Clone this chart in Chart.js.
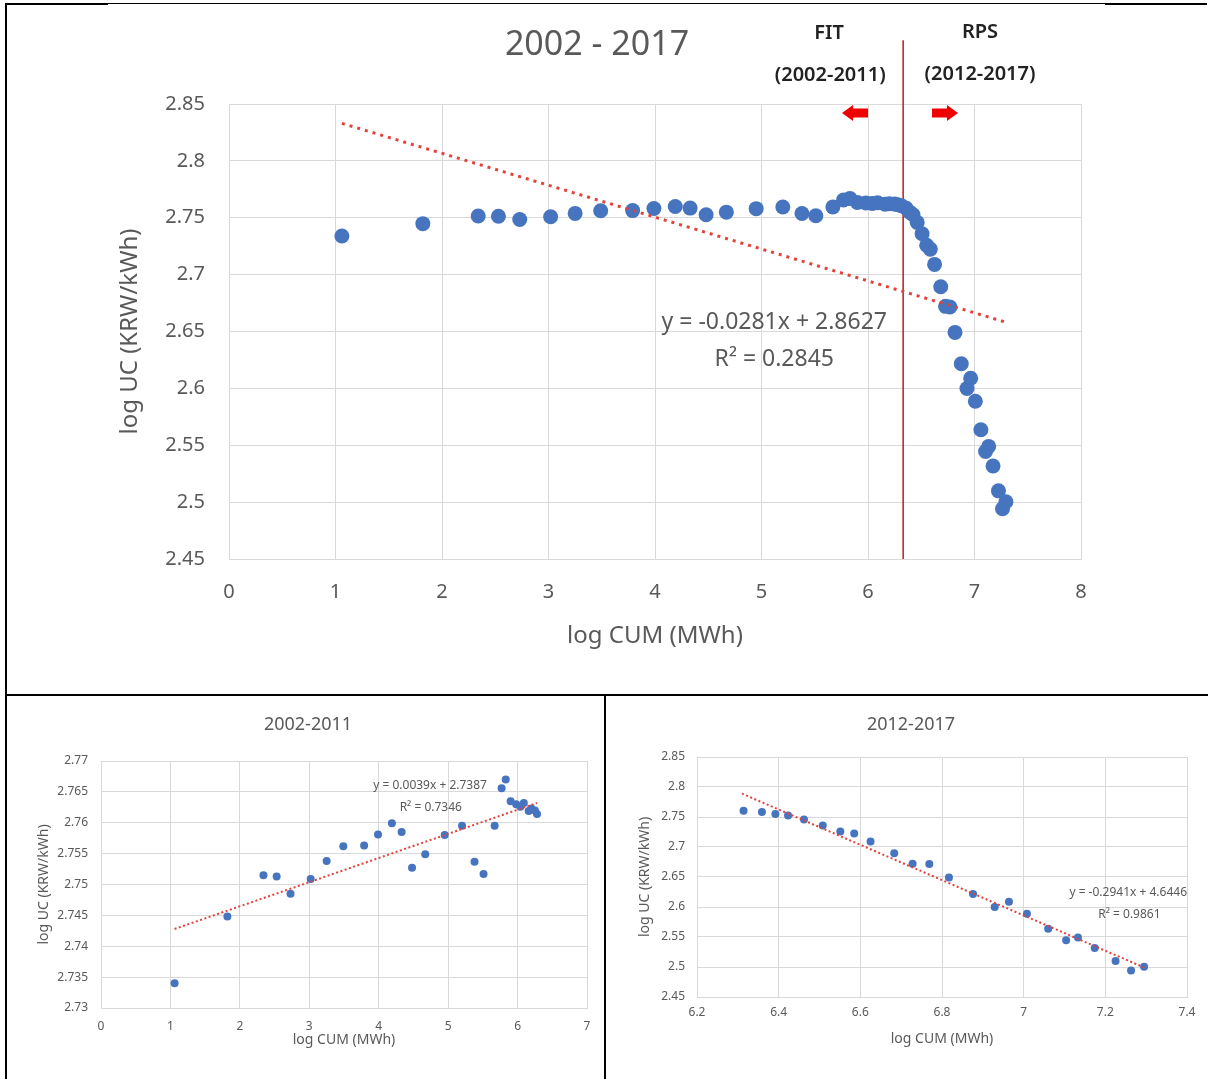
<!DOCTYPE html>
<html>
<head>
<meta charset="utf-8">
<script src="https://cdn.jsdelivr.net/npm/chart.js@4/dist/chart.umd.min.js"></script>
<style>
  body { margin: 0; background: #fff; width: 1208px; height: 1079px; position: relative; overflow: hidden; font-family: "Noto Sans", sans-serif; }
  .box { position: absolute; }
  .rule { position: absolute; background: #000; }
</style>
</head>
<body>
<!-- table borders -->
<div class="rule" style="left:5px;top:3px;width:103px;height:2px"></div>
<div class="rule" style="left:108px;top:3px;width:997px;height:1px"></div>
<div class="rule" style="left:1105px;top:3px;width:102px;height:2px"></div>
<div class="rule" style="left:5px;top:3px;width:2px;height:1076px"></div>
<div class="rule" style="left:5px;top:694px;width:1203px;height:2px"></div>
<div class="rule" style="left:604px;top:694px;width:2px;height:385px"></div>

<div class="box" style="left:113px;top:5px;width:1000px;height:680px"><canvas id="allChart"></canvas></div>
<div class="box" style="left:29px;top:697px;width:575px;height:380px"><canvas id="fitChart"></canvas></div>
<div class="box" style="left:635px;top:697px;width:571px;height:380px"><canvas id="rpsChart"></canvas></div>

<script>
// --------------------------------------------------------------------------
// DATA (log CUM in MWh, log UC in KRW/kWh)
// --------------------------------------------------------------------------
// 2002-2011 (FIT)
const fitX = [1.06, 1.82, 2.34, 2.53, 2.73, 3.02, 3.25, 3.49, 3.79, 3.99, 4.19, 4.33, 4.48, 4.67, 4.95,
              5.20, 5.38, 5.51, 5.67, 5.77, 5.83, 5.90, 5.98, 6.04, 6.09, 6.16, 6.20, 6.25, 6.28];
const fitY = [2.7340, 2.7448, 2.7515, 2.7513, 2.7485, 2.7509, 2.7538, 2.7562, 2.7563, 2.7581, 2.7599, 2.7585, 2.7527, 2.7549, 2.7580,
              2.7595, 2.7537, 2.7517, 2.7595, 2.7656, 2.7670, 2.7635, 2.7630, 2.7626, 2.7632, 2.7619, 2.7623, 2.7620, 2.7614];
// 2012-2017 (RPS)
const rpsX = [6.314, 6.359, 6.392, 6.423, 6.462, 6.508, 6.551, 6.585, 6.625, 6.683, 6.728, 6.769,
              6.817, 6.876, 6.929, 6.964, 7.008, 7.060, 7.104, 7.133, 7.174, 7.225, 7.263, 7.295];
const rpsY = [2.7605, 2.7583, 2.7549, 2.7527, 2.7459, 2.7359, 2.7258, 2.7224, 2.7090, 2.6894, 2.6721, 2.6715,
              2.6492, 2.6217, 2.5999, 2.6089, 2.5887, 2.5636, 2.5445, 2.5490, 2.5317, 2.5099, 2.4942, 2.5003];

// trendline end points
const allTrendX = [1.06, 7.30];
const allTrendY = [2.833, 2.658];
const fitTrendX = [1.06, 6.28];
const fitTrendY = [2.7428, 2.7632];
const rpsTrendX = [6.31, 7.30];
const rpsTrendY = [2.789, 2.4977];

// FIT / RPS boundary
const dividerX = [6.33, 6.33];
const dividerY = [2.45, 2.906];

const BLUE = '#4674bf';
const RED_DOT = '#e3423c';
const GRID = '#d9d9d9';
const GRAY = '#595959';
const FONT = '"Noto Sans", sans-serif';

const toPts = (xs, ys) => xs.map((x, i) => ({ x, y: ys[i] }));
const fmt = (v) => String(Number(v.toFixed(3)));

// text + arrow annotations drawn in data coordinates
const notePlugin = {
    id: 'notes',
    afterDatasetsDraw(chart, args, opts) {
        const { ctx, scales: { x, y } } = chart;
        ctx.save();
        (opts.labels || []).forEach(n => {
            ctx.font = `${n.weight || 'normal'} ${n.size}px ${FONT}`;
            ctx.fillStyle = n.color || GRAY;
            ctx.textAlign = 'center';
            ctx.textBaseline = 'middle';
            ctx.fillText(n.text, x.getPixelForValue(n.x), y.getPixelForValue(n.y));
        });
        (opts.arrows || []).forEach(a => {
            const cx = x.getPixelForValue(a.x), cy = y.getPixelForValue(a.y);
            const d = a.dir; // -1 left, 1 right
            const w = 13, head = 11, hh = 8, sh = 4.5;
            ctx.beginPath();
            ctx.moveTo(cx + d * w, cy);
            ctx.lineTo(cx + d * (w - head), cy - hh);
            ctx.lineTo(cx + d * (w - head), cy - sh);
            ctx.lineTo(cx - d * w, cy - sh);
            ctx.lineTo(cx - d * w, cy + sh);
            ctx.lineTo(cx + d * (w - head), cy + sh);
            ctx.lineTo(cx + d * (w - head), cy + hh);
            ctx.closePath();
            ctx.fillStyle = '#f00000';
            ctx.fill();
        });
        ctx.restore();
    }
};

function axisX(min, max, step, cfg) {
    return {
        type: 'linear', min, max,
        ticks: { stepSize: step, padding: cfg.tickPad, color: GRAY, font: { family: FONT, size: cfg.tickSize }, callback: fmt },
        grid: { color: GRID, drawTicks: false },
        border: { color: GRID },
        title: { display: true, text: 'log CUM (MWh)', color: GRAY, font: { family: FONT, size: cfg.titleSize }, padding: { top: 0, bottom: 0 } },
        afterFit: (s) => { s.height = cfg.height; s.paddingLeft = 0; s.paddingRight = 0; }
    };
}

function axisY(min, max, step, cfg) {
    return {
        type: 'linear', min, max,
        ticks: { stepSize: step, padding: cfg.tickPad, color: GRAY, font: { family: FONT, size: cfg.tickSize }, callback: fmt },
        grid: { color: GRID, drawTicks: false },
        border: { color: GRID },
        title: { display: true, text: 'log UC (KRW/kWh)', color: GRAY, font: { family: FONT, size: cfg.titleSize }, padding: { top: cfg.titlePad, bottom: 0 } },
        afterFit: (s) => { s.width = cfg.width; }
    };
}

function titleCfg(text, size, top, bottom) {
    return { display: true, text, color: GRAY, font: { family: FONT, size, weight: 'normal' }, padding: { top, bottom } };
}

// --------------------------------------------------------------------------
// 2002 - 2017
// --------------------------------------------------------------------------
new Chart(document.getElementById('allChart'), {
    type: 'scatter',
    data: {
        datasets: [
            { type: 'line', data: toPts(dividerX, dividerY), borderColor: '#c01818', borderWidth: 1.5, pointRadius: 0, clip: false, order: 3 },
            { data: toPts(fitX.concat(rpsX), fitY.concat(rpsY)), pointRadius: 7.5, backgroundColor: BLUE, borderColor: BLUE, borderWidth: 0, order: 2 },
            { type: 'line', data: toPts(allTrendX, allTrendY), borderColor: RED_DOT, borderWidth: 3, borderDash: [3, 5], pointRadius: 0, fill: false, order: 1 }
        ]
    },
    options: {
        responsive: true, maintainAspectRatio: false, animation: false,
        layout: { padding: { left: 0, right: 32, top: 0, bottom: 34.6 } },
        plugins: {
            legend: { display: false },
            tooltip: { enabled: false },
            title: titleCfg('2002 - 2017', 34, 19.6, 38.6),
            notes: {
                labels: [
                    { text: 'y = -0.0281x + 2.8627', x: 5.12, y: 2.6576, size: 23 },
                    { text: 'R² = 0.2845', x: 5.12, y: 2.625, size: 23 },
                    { text: 'FIT', x: 5.634, y: 2.9124, size: 20, weight: '600', color: '#222' },
                    { text: '(2002-2011)', x: 5.645, y: 2.8755, size: 20, weight: '600', color: '#222' },
                    { text: 'RPS', x: 7.052, y: 2.9133, size: 20, weight: '600', color: '#222' },
                    { text: '(2012-2017)', x: 7.052, y: 2.8764, size: 20, weight: '600', color: '#222' }
                ],
                arrows: [
                    { x: 5.878, y: 2.842, dir: -1 },
                    { x: 6.723, y: 2.842, dir: 1 }
                ]
            }
        },
        scales: {
            x: axisX(0, 8, 1, { tickPad: 21, tickSize: 20, titleSize: 24, height: 91.4 }),
            y: axisY(2.45, 2.85, 0.05, { tickPad: 24, tickSize: 20, titleSize: 24, titlePad: 2.6, width: 116 })
        }
    },
    plugins: [notePlugin]
});

// --------------------------------------------------------------------------
// 2002-2011
// --------------------------------------------------------------------------
new Chart(document.getElementById('fitChart'), {
    type: 'scatter',
    data: {
        datasets: [
            { data: toPts(fitX, fitY), pointRadius: 4, backgroundColor: BLUE, borderColor: BLUE, borderWidth: 0, order: 2 },
            { type: 'line', data: toPts(fitTrendX, fitTrendY), borderColor: RED_DOT, borderWidth: 2, borderDash: [2, 2.5], pointRadius: 0, fill: false, order: 1 }
        ]
    },
    options: {
        responsive: true, maintainAspectRatio: false, animation: false,
        layout: { padding: { left: 0, right: 17, top: 0, bottom: 28.6 } },
        plugins: {
            legend: { display: false },
            tooltip: { enabled: false },
            title: titleCfg('2002-2011', 18, 17.2, 25.2),
            notes: {
                labels: [
                    { text: 'y = 0.0039x + 2.7387', x: 4.74, y: 2.7661, size: 12 },
                    { text: 'R² = 0.7346', x: 4.75, y: 2.7624, size: 12 }
                ]
            }
        },
        scales: {
            x: axisX(0, 7, 1, { tickPad: 11.8, tickSize: 12, titleSize: 14, height: 40.4 }),
            y: axisY(2.73, 2.77, 0.005, { tickPad: 13, tickSize: 12, titleSize: 14, titlePad: 6.6, width: 72 })
        }
    },
    plugins: [notePlugin]
});

// --------------------------------------------------------------------------
// 2012-2017
// --------------------------------------------------------------------------
new Chart(document.getElementById('rpsChart'), {
    type: 'scatter',
    data: {
        datasets: [
            { data: toPts(rpsX, rpsY), pointRadius: 4, backgroundColor: BLUE, borderColor: BLUE, borderWidth: 0, order: 2 },
            { type: 'line', data: toPts(rpsTrendX, rpsTrendY), borderColor: RED_DOT, borderWidth: 2, borderDash: [2, 2.5], pointRadius: 0, fill: false, order: 1 }
        ]
    },
    options: {
        responsive: true, maintainAspectRatio: false, animation: false,
        layout: { padding: { left: 0, right: 19, top: 0, bottom: 29.6 } },
        plugins: {
            legend: { display: false },
            tooltip: { enabled: false },
            title: titleCfg('2012-2017', 18, 17.2, 21.2),
            notes: {
                labels: [
                    { text: 'y = -0.2941x + 4.6446', x: 7.256, y: 2.6233, size: 12 },
                    { text: 'R² = 0.9861', x: 7.259, y: 2.5867, size: 12 }
                ]
            }
        },
        scales: {
            x: axisX(6.2, 7.4, 0.2, { tickPad: 8.8, tickSize: 12, titleSize: 14, height: 50.4 }),
            y: axisY(2.45, 2.85, 0.05, { tickPad: 12, tickSize: 12, titleSize: 14, titlePad: 1.6, width: 62 })
        }
    },
    plugins: [notePlugin]
});
</script>
</body>
</html>
